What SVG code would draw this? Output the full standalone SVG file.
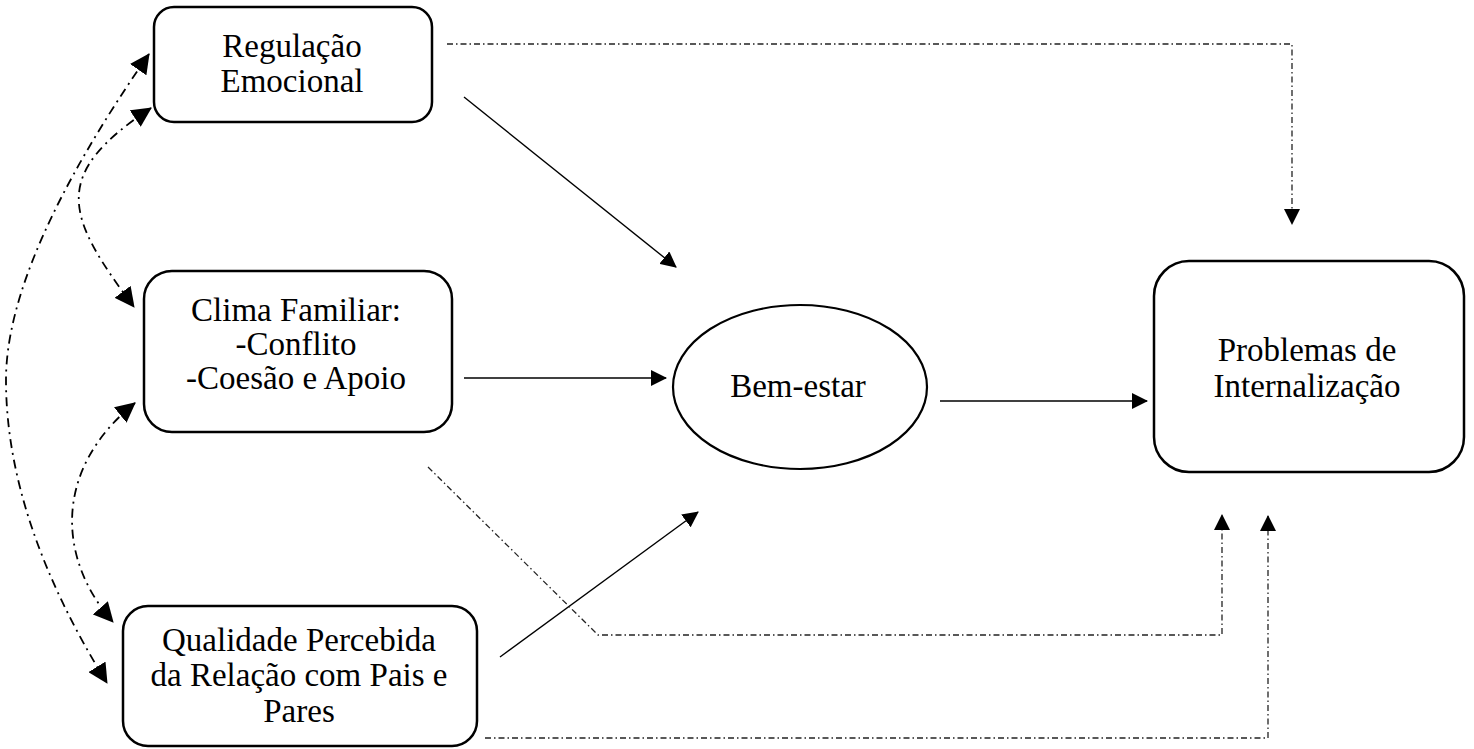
<svg xmlns="http://www.w3.org/2000/svg" width="1474" height="749" viewBox="0 0 1474 749">
  <defs>
    <style>
      .node { fill: #fff; stroke: #000; stroke-width: 2.5; }
      .lbl { font-family: "Liberation Serif", "Times New Roman", serif; font-size: 33px; fill: #000; text-anchor: middle; }
      .solid { fill: none; stroke: #000; stroke-width: 1.4; }
      .dashdot { fill: none; stroke: #222; stroke-width: 1.3; stroke-dasharray: 6 3 1.5 3; }
      .corr { fill: none; stroke: #000; stroke-width: 1.8; stroke-dasharray: 9 5 2 5; }
    </style>
    <marker id="head" viewBox="0 0 16 16" refX="15" refY="8" markerWidth="16" markerHeight="16" markerUnits="userSpaceOnUse" orient="auto">
      <path d="M0,0 L16,8 L0,16 Z" fill="#000"/>
    </marker>
    <marker id="headBig" viewBox="0 0 20 20" refX="19" refY="10" markerWidth="20" markerHeight="20" markerUnits="userSpaceOnUse" orient="auto-start-reverse">
      <path d="M0,0 L20,10 L0,20 Z" fill="#000"/>
    </marker>
  </defs>
  <rect width="1474" height="749" fill="#fff"/>

  <!-- connectors -->
  <g id="connectors">
    <!-- direct paths -->
    <line class="solid" x1="464" y1="97" x2="676" y2="267" marker-end="url(#head)"/>
    <line class="solid" x1="464" y1="378" x2="666" y2="378" marker-end="url(#head)"/>
    <line class="solid" x1="500" y1="657" x2="698" y2="512" marker-end="url(#head)"/>
    <line class="solid" x1="940" y1="401" x2="1147" y2="401" marker-end="url(#head)"/>

    <!-- indirect paths -->
    <polyline class="dashdot" points="447,44 1292,44 1292,224" marker-end="url(#head)"/>
    <polyline class="dashdot" points="428,467 598,635 1222,635 1222,515" marker-end="url(#head)"/>
    <polyline class="dashdot" points="485,738 1268,738 1268,516" marker-end="url(#head)"/>

    <!-- correlations between predictors -->
    <path class="corr" d="M149,54 Q6,260 6,380 Q6,520 107,683" marker-start="url(#headBig)" marker-end="url(#headBig)"/>
    <path class="corr" d="M151,108 C50,175 65,215 134,307" marker-start="url(#headBig)" marker-end="url(#headBig)"/>
    <path class="corr" d="M135,403 C52,470 58,560 113,622" marker-start="url(#headBig)" marker-end="url(#headBig)"/>
  </g>

  <g id="regulacao">
    <rect class="node" x="154" y="7" width="278" height="115" rx="20"/>
    <text class="lbl" x="292" y="57">Regulação</text>
    <text class="lbl" x="292" y="92">Emocional</text>
  </g>

  <g id="clima">
    <rect class="node" x="144" y="271" width="308" height="161" rx="28"/>
    <text class="lbl" x="296" y="321">Clima Familiar:</text>
    <text class="lbl" x="296" y="355">-Conflito</text>
    <text class="lbl" x="296" y="389">-Coesão e Apoio</text>
  </g>

  <g id="qualidade">
    <rect class="node" x="123" y="606" width="354" height="140" rx="25"/>
    <text class="lbl" x="299" y="651">Qualidade Percebida</text>
    <text class="lbl" x="299" y="686">da Relação com Pais e</text>
    <text class="lbl" x="299" y="722">Pares</text>
  </g>

  <g id="bemestar">
    <ellipse class="node" cx="800" cy="387" rx="127" ry="82" style="stroke-width:2.2"/>
    <text class="lbl" x="798" y="397">Bem-estar</text>
  </g>

  <g id="problemas">
    <rect class="node" x="1154" y="261" width="310" height="211" rx="35"/>
    <text class="lbl" x="1307" y="361">Problemas de</text>
    <text class="lbl" x="1307" y="397">Internalização</text>
  </g>
</svg>
